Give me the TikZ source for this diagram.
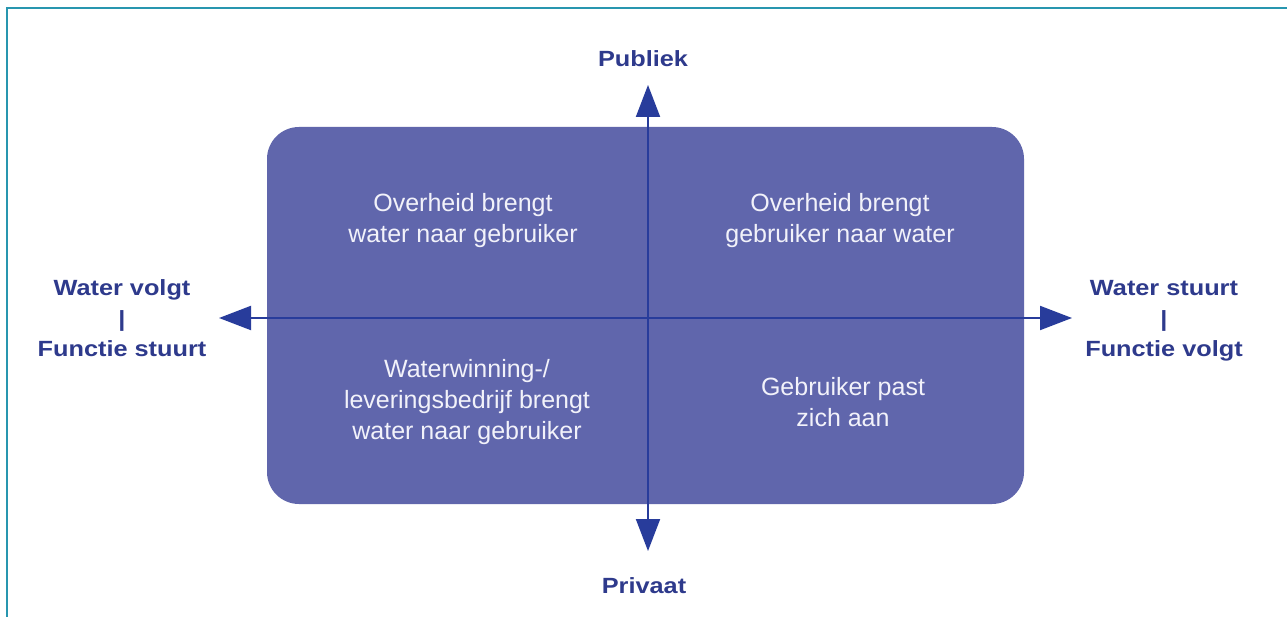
\documentclass[tikz,border=0pt]{standalone}
\usepackage{fontspec}
\setmainfont{Liberation Sans}
\newfontfamily\lblfont[FakeStretch=1.15]{Liberation Sans}
\usetikzlibrary{arrows.meta}
\definecolor{boxblue}{RGB}{96,102,172}
\definecolor{axisblue}{RGB}{40,60,155}
\definecolor{lblblue}{RGB}{46,58,140}
\definecolor{quadtext}{RGB}{242,242,250}
\definecolor{framecol}{RGB}{40,150,175}
\tikzset{
  quadbox/.style={fill=boxblue, draw=none, rounded corners=32pt, inner sep=0pt},
  quadtxt/.style={text=quadtext, align=center, inner sep=0pt, font={\fontsize{25}{31}\selectfont}},
  axislbl/.style={text=lblblue, align=center, inner sep=0pt, font={\lblfont\bfseries\fontsize{22}{30.5}\selectfont}},
  axisline/.style={draw=axisblue, line width=2pt, -{Triangle[length=32pt,width=24pt]}},
  framestyle/.style={draw=framecol, line width=2.5pt}
}
\begin{document}
\begin{tikzpicture}[x=1pt,y=-1pt]
\useasboundingbox[fill=white] (0,0) rectangle (1287,617);
\draw[framestyle] (7,617) -- (7,8) -- (1287,8);
\node[quadbox, minimum width=757pt, minimum height=377pt] (box) at (645.5,315.5) {};
\coordinate (c) at (648,318);
\coordinate (ntip) at (648,85);
\coordinate (stip) at (648,551);
\coordinate (wtip) at (219,318);
\coordinate (etip) at (1072,318);
\draw[axisline] (c) -- (ntip);
\draw[axisline] (c) -- (stip);
\draw[axisline] (c) -- (wtip);
\draw[axisline] (c) -- (etip);
\node[quadtxt] (tl) at (463,221) {Overheid brengt\\water naar gebruiker};
\node[quadtxt] (tr) at (840,221) {Overheid brengt\\gebruiker naar water};
\node[quadtxt] (bl) at (467,402.5) {Waterwinning-/\\leveringsbedrijf brengt\\water naar gebruiker};
\node[quadtxt] (br) at (843,402) {Gebruiker past\\zich aan};
\node[axislbl, anchor=base] (pub) at (643,67) {Publiek};
\node[axislbl, anchor=base] (priv) at (644,593) {Privaat};
\node[axislbl] (west) at (122,318.5) {Water volgt\\|\\Functie stuurt};
\node[axislbl] (east) at (1164,321) {Water stuurt\\|\\Functie volgt};
\end{tikzpicture}
\end{document}
